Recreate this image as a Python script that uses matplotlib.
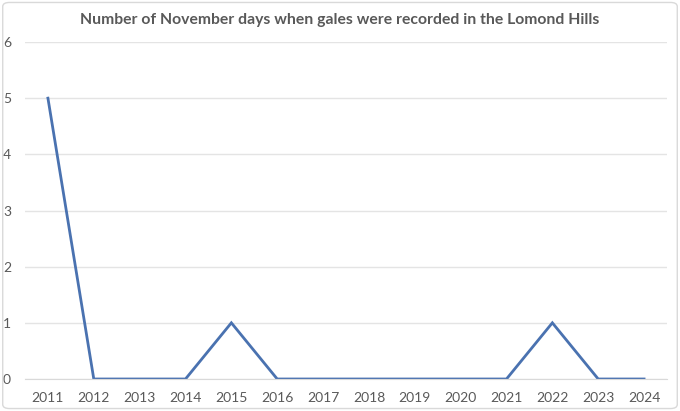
import matplotlib
matplotlib.use("Agg")
import matplotlib.pyplot as plt
from matplotlib.patches import FancyBboxPatch

years = ['2011', '2012', '2013', '2014', '2015', '2016', '2017',
         '2018', '2019', '2020', '2021', '2022', '2023', '2024']
gale_days = [5, 0, 0, 0, 1, 0, 0, 0, 0, 0, 0, 1, 0, 0]

plt.rcParams['font.family'] = ['Lato', 'DejaVu Sans']
txt = '#595959'

fig = plt.figure(figsize=(6.8, 4.11), dpi=100)
ax = fig.add_axes([25 / 680, 1 - 379 / 411, 642 / 680, 337 / 411])

# light border round the chart, like an Excel chart area
fig.patches.append(FancyBboxPatch((0.004, 0.006), 0.992, 0.988,
                                  boxstyle='round,pad=0,rounding_size=0.01',
                                  transform=fig.transFigure, fill=False,
                                  edgecolor='#d9d9d9', linewidth=1.0))

x = list(range(len(years)))
ax.plot(x, gale_days, color='#4a72b0', linewidth=2.0, solid_joinstyle='miter')

ax.set_xlim(-0.5, len(years) - 0.5)
ax.set_ylim(0, 6)
ax.set_yticks(range(0, 7))
ax.set_xticks(x)
ax.set_xticklabels(years)
ax.grid(axis='y', color='#e4e4e4', linewidth=1.0)
ax.set_axisbelow(True)
for s in ['top', 'right', 'left']:
    ax.spines[s].set_visible(False)
ax.spines['bottom'].set_color('#d9d9d9')
ax.tick_params(length=0, labelsize=10, colors=txt)
ax.tick_params(axis='x', pad=9)
ax.tick_params(axis='y', pad=10)

fig.text(0.5, 0.951, 'Number of November days when gales were recorded in the Lomond Hills',
         ha='center', va='center', fontsize=11.3, fontweight='bold', color=txt)

fig.savefig('out.png', dpi=100)
